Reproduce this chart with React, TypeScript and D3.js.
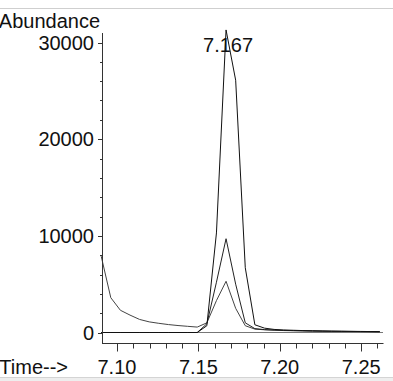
import React, { useEffect, useRef } from "react";
import * as d3 from "d3";

const times = [
  7.0903, 7.0962, 7.1021, 7.108, 7.1139, 7.1198, 7.1257, 7.1316, 7.1375, 7.1434,
  7.1493, 7.1552, 7.1611, 7.167, 7.1729, 7.1788, 7.1847, 7.1906, 7.1965, 7.2024,
  7.2083, 7.2142, 7.2201, 7.226, 7.2319, 7.2378, 7.2437, 7.2496, 7.2555, 7.2614,
];

const traceA = [
  7900, 3600, 2300, 1800, 1350, 1100, 950, 820, 720, 640,
  560, 1000, 3300, 5300, 2500, 700, 350, 280, 240, 200,
  180, 160, 140, 130, 120, 110, 100, 90, 80, 70,
];
const traceB = [
  0, 0, 0, 0, 0, 0, 0, 0, 0, 0,
  0, 900, 5200, 9700, 5000, 1000, 400, 300, 250, 220,
  200, 180, 160, 140, 130, 120, 110, 100, 90, 80,
];
const traceC = [
  0, 0, 0, 0, 0, 0, 0, 0, 0, 0,
  0, 700, 10300, 31300, 26100, 6700, 800, 450, 320, 260,
  230, 200, 180, 160, 140, 130, 120, 110, 100, 90,
];

const yMajor = [0, 10000, 20000, 30000];
const yMinor = d3.range(0, 30001, 2000);
const xMajor = [7.1, 7.15, 7.2, 7.25];
const xMinor = [7.1, 7.11, 7.12, 7.13, 7.14, 7.15, 7.16, 7.17, 7.18, 7.19, 7.2, 7.21, 7.22, 7.23, 7.24, 7.25, 7.26];
const peakLabel = { time: 7.167, text: "7.167" };

const W = 393;
const H = 381;
const FONT = "'Liberation Sans', Arial, Helvetica, sans-serif";

export default function App() {
  const ref = useRef<SVGSVGElement | null>(null);

  useEffect(() => {
    const svg = d3.select(ref.current);
    svg.selectAll("*").remove();

    const x = d3.scaleLinear().domain([7.0908, 7.2634]).range([102, 383]);
    const y = d3.scaleLinear().domain([0, 30000]).range([332.5, 42.5]);

    // frame lines
    svg.append("rect").attr("x", 0).attr("y", 0).attr("width", W).attr("height", H).attr("fill", "#fff");
    svg.append("line").attr("x1", 0).attr("x2", W).attr("y1", 8.5).attr("y2", 8.5).attr("stroke", "#cfcfcf");
    svg.append("rect").attr("x", 0).attr("y", 377).attr("width", W).attr("height", 4).attr("fill", "#eeeeee");
    svg.append("line").attr("x1", 0).attr("x2", W).attr("y1", 377.5).attr("y2", 377.5).attr("stroke", "#d4d4d4");

    const defs = svg.append("defs");
    defs.append("clipPath").attr("id", "plotclip").append("rect")
      .attr("x", 100).attr("y", 0).attr("width", 283).attr("height", 345);

    // baseline
    svg.append("line").attr("x1", 102).attr("x2", 383).attr("y1", y(0)).attr("y2", y(0))
      .attr("stroke", "#777").attr("stroke-width", 1);

    const line = (vals: number[]) =>
      d3.line<number>().x((_, i) => x(times[i])).y((d) => y(d))(vals);

    const g = svg.append("g").attr("clip-path", "url(#plotclip)");
    [
      { v: traceA, c: "#444" },
      { v: traceB, c: "#222" },
      { v: traceC, c: "#111" },
    ].forEach((s) => {
      g.append("path").attr("d", line(s.v) as string).attr("fill", "none")
        .attr("stroke", s.c).attr("stroke-width", 1).attr("stroke-linejoin", "miter");
    });

    // axes
    const axisColor = "#333";
    svg.append("line").attr("x1", 102.5).attr("x2", 102.5).attr("y1", 33).attr("y2", 343.5)
      .attr("stroke", axisColor);
    svg.append("line").attr("x1", 102).attr("x2", 383.5).attr("y1", 343.5).attr("y2", 343.5)
      .attr("stroke", axisColor);

    yMinor.forEach((v) => {
      svg.append("line").attr("x1", 100).attr("x2", 102.5).attr("y1", Math.round(y(v)) + 0.5)
        .attr("y2", Math.round(y(v)) + 0.5).attr("stroke", axisColor);
    });
    yMajor.forEach((v) => {
      svg.append("line").attr("x1", 98).attr("x2", 102.5).attr("y1", Math.round(y(v)) + 0.5)
        .attr("y2", Math.round(y(v)) + 0.5).attr("stroke", axisColor);
      svg.append("text").attr("x", 94).attr("y", y(v)).attr("dy", "0.36em")
        .attr("text-anchor", "end").attr("font-family", FONT).attr("font-size", 20)
        .attr("fill", "#111").text(String(v));
    });

    xMinor.forEach((v) => {
      svg.append("line").attr("x1", Math.round(x(v)) + 0.5).attr("x2", Math.round(x(v)) + 0.5)
        .attr("y1", 343.5).attr("y2", 348.5).attr("stroke", axisColor);
    });
    xMajor.forEach((v) => {
      svg.append("line").attr("x1", Math.round(x(v)) + 0.5).attr("x2", Math.round(x(v)) + 0.5)
        .attr("y1", 343.5).attr("y2", 351.5).attr("stroke", axisColor);
      svg.append("text").attr("x", x(v)).attr("y", 374)
        .attr("text-anchor", "middle").attr("font-family", FONT).attr("font-size", 20)
        .attr("fill", "#111").text(v.toFixed(2));
    });

    svg.append("text").attr("x", 100).attr("y", 27.5).attr("text-anchor", "end")
      .attr("font-family", FONT).attr("font-size", 20).attr("fill", "#111").text("Abundance");
    svg.append("text").attr("x", 68).attr("y", 374).attr("text-anchor", "end")
      .attr("font-family", FONT).attr("font-size", 20).attr("fill", "#111").text("Time-->");

    svg.append("text").attr("x", x(peakLabel.time) + 2).attr("y", 51.5).attr("text-anchor", "middle")
      .attr("font-family", FONT).attr("font-size", 20).attr("fill", "#111").text(peakLabel.text);
  }, []);

  return (
    <svg
      ref={ref}
      width={W}
      height={H}
      style={{ position: "absolute", left: 0, top: 0, display: "block" }}
    />
  );
}
